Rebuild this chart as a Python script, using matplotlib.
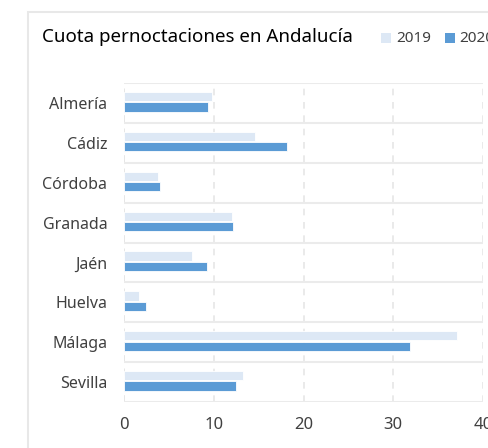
import numpy as np
import matplotlib.pyplot as plt
from matplotlib.patches import Rectangle

provincias = ['Almería', 'Cádiz', 'Córdoba', 'Granada', 'Jaén', 'Huelva', 'Málaga', 'Sevilla']
cuota_2019 = [9.8, 14.6, 3.75, 12.0, 7.6, 1.7, 37.1, 13.3]
cuota_2020 = [9.35, 18.2, 4.0, 12.1, 9.2, 2.5, 31.9, 12.45]
x_ticks = [0, 10, 20, 30, 40]

plt.rcParams['font.family'] = ['Noto Sans', 'DejaVu Sans']

fig = plt.figure(figsize=(4.88, 4.48), dpi=100)
fig.patch.set_facecolor('white')

# card frame
fig.add_artist(Rectangle((28 / 488, -0.1), 1.2, 0.1 + (1 - 12 / 448), transform=fig.transFigure,
                         facecolor='white', edgecolor='#e8e8e8', linewidth=1.5, zorder=0))

ax = fig.add_axes([124 / 488, 1 - 402 / 448, (483 - 124) / 488, (402 - 83) / 448])
ax.set_facecolor('none')

y = np.arange(len(provincias))
ax.barh(y - 0.16, cuota_2019, height=0.23, color='#dde8f5', edgecolor='white', linewidth=0.6, label='2019', zorder=3)
ax.barh(y + 0.10, cuota_2020, height=0.23, color='#5b9bd5', edgecolor='white', linewidth=0.6, label='2020', zorder=3)

ax.set_ylim(len(provincias) - 0.5, -0.5)
ax.set_xlim(0, 40)
ax.set_yticks(y)
ax.set_yticklabels(provincias)
ax.set_yticks(np.arange(len(provincias) + 1) - 0.5, minor=True)
ax.set_xticks(x_ticks)

ax.grid(axis='y', which='minor', color='#ebebeb', linewidth=1.5, linestyle='-', zorder=1)
ax.grid(axis='x', which='major', color='#e6e6e6', linewidth=1.2, linestyle=(0, (4, 4)), zorder=1)
ax.axvline(0, color='#e6e6e6', linewidth=1.2, linestyle=(0, (4, 4)), zorder=1)

for s in ax.spines.values():
    s.set_visible(False)
ax.tick_params(which='both', length=0)
ax.tick_params(axis='y', labelsize=11.5, labelcolor='#404040', pad=12)
ax.tick_params(axis='x', labelsize=12, labelcolor='#404040', pad=11)

fig.text(42 / 488, 1 - 37 / 448, 'Cuota pernoctaciones en Andalucía', fontsize=13.5,
         color='black', va='center', ha='left')

# legend
fig.add_artist(Rectangle((381 / 488, 1 - 43 / 448), 10 / 488, 10 / 448, transform=fig.transFigure,
                         facecolor='#dde8f5', edgecolor='none'))
fig.text(396 / 488, 1 - 38 / 448, '2019', fontsize=11, color='#404040', va='center')
fig.add_artist(Rectangle((445 / 488, 1 - 43 / 448), 10 / 488, 10 / 448, transform=fig.transFigure,
                         facecolor='#5b9bd5', edgecolor='none'))
fig.text(459 / 488, 1 - 38 / 448, '2020', fontsize=11, color='#404040', va='center')

fig.savefig('out.png', dpi=100)
